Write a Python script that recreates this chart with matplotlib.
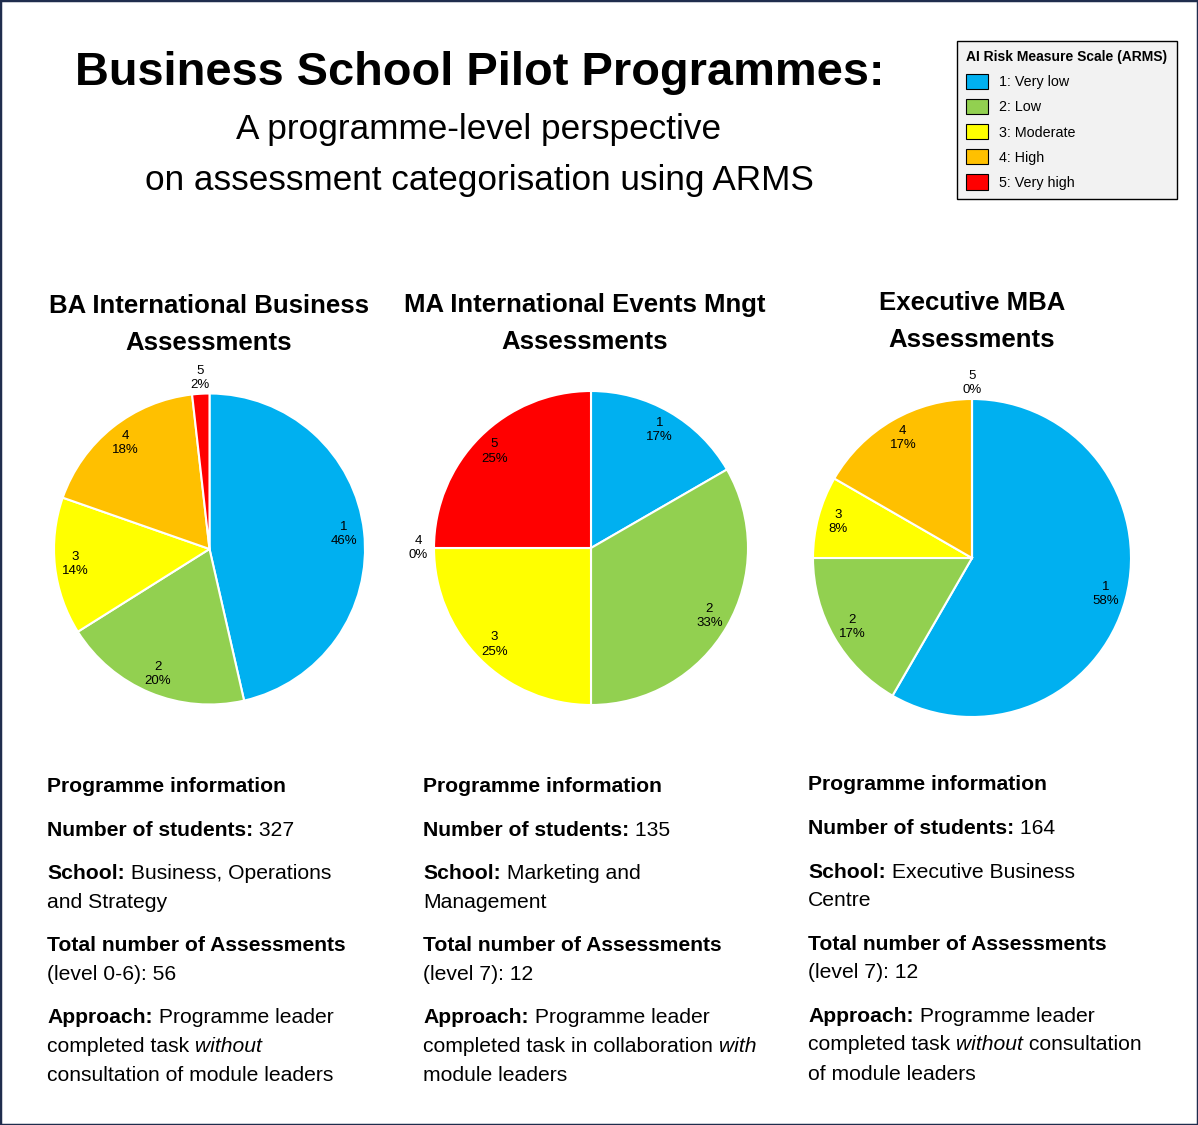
import numpy as np
import matplotlib
matplotlib.use("Agg")
import matplotlib.pyplot as plt
from matplotlib.patches import Patch, Rectangle

plt.rcParams["font.family"] = ["Liberation Sans", "DejaVu Sans"]

# ---- data ----
level_ids = ["1", "2", "3", "4", "5"]
level_names = ["1: Very low", "2: Low", "3: Moderate", "4: High", "5: Very high"]
level_colours = ["#00B0F0", "#92D050", "#FFFF00", "#FFC000", "#FF0000"]

programmes = ["BA International Business", "MA International Events Mngt", "Executive MBA"]
ba_counts = [26, 11, 8, 10, 1]
ma_counts = [2, 4, 3, 0, 3]
emba_counts = [7, 2, 1, 2, 0]
students = [327, 135, 164]
schools = [["Business, Operations", "and Strategy"],
           ["Marketing and", "Management"],
           ["Executive Business", "Centre"]]
study_levels = ["0-6", "7", "7"]
approaches = [
    [[("Approach:", "bold", "normal"), (" Programme leader", "normal", "normal")],
     [("completed task", "normal", "normal"), (" without", "normal", "italic")],
     [("consultation of module leaders", "normal", "normal")]],
    [[("Approach:", "bold", "normal"), (" Programme leader", "normal", "normal")],
     [("completed task in collaboration", "normal", "normal"), (" with", "normal", "italic")],
     [("module leaders", "normal", "normal")]],
    [[("Approach:", "bold", "normal"), (" Programme leader", "normal", "normal")],
     [("completed task", "normal", "normal"), (" without", "normal", "italic"),
      (" consultation", "normal", "normal")],
     [("of module leaders", "normal", "normal")]],
]
all_counts = [ba_counts, ma_counts, emba_counts]

W, H = 1198, 1125
fig = plt.figure(figsize=(W / 100, H / 100), dpi=100)
fig.patch.set_facecolor("white")
renderer = fig.canvas.get_renderer()


def fx(x):
    return x / W


def fy(y):
    return 1 - y / H


def line_runs(x, y, runs, size):
    # draw a line made of bold / normal / italic pieces
    for txt, weight, style in runs:
        t = fig.text(fx(x), fy(y), txt, fontsize=size, fontweight=weight,
                     fontstyle=style, ha="left", va="baseline")
        x += t.get_window_extent(renderer).width


# ---- titles ----
fig.text(fx(480), fy(85), "Business School Pilot Programmes:", fontsize=33.8,
         fontweight="bold", ha="center", va="baseline")
fig.text(fx(479), fy(139), "A programme-level perspective", fontsize=25.3,
         ha="center", va="baseline")
fig.text(fx(479), fy(190), "on assessment categorisation using ARMS", fontsize=25.3,
         ha="center", va="baseline")

# ---- pies ----
centres = [(209.5, 549), (591, 548), (972, 558)]
radii = [155.5, 157, 159]
title_x = [209, 585, 972]
title_y = [313, 312, 310]

for i, counts in enumerate(all_counts):
    cx, cy = centres[i]
    R = radii[i]
    box = 1.35
    ax = fig.add_axes([fx(cx - R * box), fy(cy + R * box), 2 * R * box / W, 2 * R * box / H])
    wedges, _ = ax.pie(counts, colors=level_colours, startangle=90, counterclock=False,
                       wedgeprops=dict(edgecolor="white", linewidth=1.5))
    ax.set_xlim(-box, box)
    ax.set_ylim(-box, box)
    ax.axis("off")
    total = sum(counts)
    for w, lab, n in zip(wedges, level_ids, counts):
        mid = np.deg2rad((w.theta1 + w.theta2) / 2)
        frac = n / total
        r = 1.1 if frac < 0.05 else 0.87
        ax.text(r * np.cos(mid), r * np.sin(mid), f"{lab}\n{round(frac * 100)}%",
                ha="center", va="center", fontsize=9.5, linespacing=1.25)

    fig.text(fx(title_x[i]), fy(title_y[i]), programmes[i], fontsize=18.5,
             fontweight="bold", ha="center", va="baseline")
    fig.text(fx(title_x[i]), fy(title_y[i] + 37), "Assessments", fontsize=18.5,
             fontweight="bold", ha="center", va="baseline")

# ---- programme information ----
col_x = [47, 423, 808]
col_shift = [0, 0, -1.5]
fs = 15.2
for i in range(3):
    x = col_x[i]
    s = col_shift[i]
    line_runs(x, 792 + s, [("Programme information", "bold", "normal")], fs)
    line_runs(x, 836 + s, [("Number of students:", "bold", "normal"),
                           (f" {students[i]}", "normal", "normal")], fs)
    line_runs(x, 879 + s, [("School:", "bold", "normal"),
                           (" " + schools[i][0], "normal", "normal")], fs)
    line_runs(x, 908 + s, [(schools[i][1], "normal", "normal")], fs)
    line_runs(x, 951 + s, [("Total number of Assessments", "bold", "normal")], fs)
    line_runs(x, 980 + s, [(f"(level {study_levels[i]}): {sum(all_counts[i])}",
                            "normal", "normal")], fs)
    for k, runs in enumerate(approaches[i]):
        line_runs(x, 1023 + s + 29 * k, runs, fs)

# ---- legend ----
handles = [Patch(facecolor=c, edgecolor="black", linewidth=0.8) for c in level_colours]
leg = fig.legend(handles, level_names, loc="upper left",
                 bbox_to_anchor=(fx(957), fy(41)), borderaxespad=0,
                 title="AI Risk Measure Scale (ARMS)",
                 title_fontproperties=dict(weight="bold", size=10),
                 fontsize=10.3, handlelength=1.55, handleheight=1.25,
                 handletextpad=0.75, labelspacing=0.68, borderpad=0.65,
                 alignment="left", fancybox=False, framealpha=1,
                 facecolor="#F2F2F2", edgecolor="black")
leg.get_frame().set_linewidth(1.0)
leg._legend_box.sep = 7

# ---- outer border ----
fig.patches.append(Rectangle((0, 0), 1, 1, transform=fig.transFigure, fill=False,
                             edgecolor="#1F2D4D", linewidth=2.5))

fig.savefig("out.png", dpi=100)
